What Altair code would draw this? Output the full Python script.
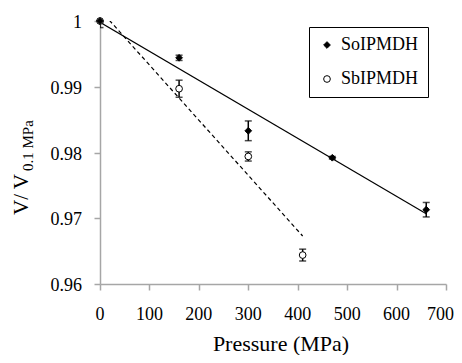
import altair as alt
import pandas as pd

# Data
so_pressure = [0, 160, 300, 470, 660]
so_ratio = [1.0, 0.9944, 0.9833, 0.9792, 0.9713]
so_err = [0.0003, 0.0004, 0.0015, 0.0002, 0.0011]

sb_pressure = [0, 160, 300, 410]
sb_ratio = [1.0, 0.9897, 0.9794, 0.9644]
sb_err = [0.0010, 0.0013, 0.0007, 0.0009]

# Linear trend lines (end points)
so_fit_x = [0, 660]
so_fit_y = [0.9998, 0.9707]
sb_fit_x = [0, 410]
sb_fit_y = [1.0017, 0.9673]

series_names = ["SoIPMDH", "SbIPMDH"]
x_ticks = [0, 100, 200, 300, 400, 500, 600]
x_tick_last = [700]
y_ticks = [0.96, 0.97, 0.98, 0.99, 1.0]
y_tick_labels = ["0.96", "0.97", "0.98", "0.99", "1"]
x_title = "Pressure (MPa)"

rows = []
for p, r, e in zip(sb_pressure, sb_ratio, sb_err):
    rows.append({"P": p, "V": r, "lo": r - e, "hi": r + e, "s": "SbIPMDH"})
for p, r, e in zip(so_pressure, so_ratio, so_err):
    rows.append({"P": p, "V": r, "lo": r - e, "hi": r + e, "s": "SoIPMDH"})
pts = pd.DataFrame(rows)

fit_so = pd.DataFrame({"P": so_fit_x, "V": so_fit_y})
fit_sb = pd.DataFrame({"P": sb_fit_x, "V": sb_fit_y})

FONT = "Liberation Serif"
GRAY = "#a6a6a6"

xs = alt.Scale(domain=[0, 700], nice=False)
ys = alt.Scale(domain=[0.96, 1.0], nice=False, zero=False)

x_axis = alt.Axis(values=x_ticks + x_tick_last, title=None, labels=False)
y_axis = alt.Axis(values=y_ticks, title=None, labels=False)

base = alt.Chart(pts)

lines_so = alt.Chart(fit_so).mark_line(color="black", strokeWidth=1.2, clip=True).encode(
    x=alt.X("P:Q", scale=xs, axis=x_axis), y=alt.Y("V:Q", scale=ys, axis=y_axis))
lines_sb = alt.Chart(fit_sb).mark_line(color="black", strokeWidth=1.2, strokeDash=[4, 3], clip=True).encode(
    x=alt.X("P:Q", scale=xs, axis=x_axis), y=alt.Y("V:Q", scale=ys, axis=y_axis))

bars = base.mark_rule(color="black", strokeWidth=1.5, clip=True).encode(
    x=alt.X("P:Q", scale=xs, axis=x_axis), y=alt.Y("lo:Q", scale=ys, axis=y_axis), y2="hi:Q")
cap_lo = base.mark_tick(color="black", thickness=1.5, size=7, orient="horizontal", clip=True).encode(
    x=alt.X("P:Q", scale=xs, axis=x_axis), y=alt.Y("lo:Q", scale=ys, axis=y_axis))
cap_hi = base.mark_tick(color="black", thickness=1.5, size=7, orient="horizontal", clip=True).encode(
    x=alt.X("P:Q", scale=xs, axis=x_axis), y=alt.Y("hi:Q", scale=ys, axis=y_axis))

points = base.mark_point(strokeWidth=1, opacity=1).encode(
    x=alt.X("P:Q", scale=xs, axis=x_axis),
    y=alt.Y("V:Q", scale=ys, axis=y_axis),
    shape=alt.Shape("s:N", scale=alt.Scale(domain=series_names, range=["diamond", "circle"]),
                    legend=alt.Legend(title=None)),
    fill=alt.Fill("s:N", scale=alt.Scale(domain=series_names, range=["black", "white"]),
                  legend=alt.Legend(title=None)),
    stroke=alt.Stroke("s:N", scale=alt.Scale(domain=series_names, range=["black", "black"]),
                      legend=alt.Legend(title=None)),
    size=alt.value(45),
)

# tick labels as text marks placed through the chart's scales
xlab = alt.Chart(pd.DataFrame({"P": x_ticks, "t": [str(v) for v in x_ticks]})).mark_text(
    font=FONT, fontSize=18, align="center", baseline="alphabetic", color="black"
).encode(x=alt.X("P:Q", scale=xs, axis=x_axis), y=alt.value(299), text="t:N")
xlab_last = alt.Chart(pd.DataFrame({"P": x_tick_last, "t": [str(v) for v in x_tick_last]})).mark_text(
    font=FONT, fontSize=18, align="right", baseline="alphabetic", color="black", dx=8
).encode(x=alt.X("P:Q", scale=xs, axis=x_axis), y=alt.value(299), text="t:N")
ylab = alt.Chart(pd.DataFrame({"V": y_ticks, "t": y_tick_labels})).mark_text(
    font=FONT, fontSize=18, align="right", baseline="alphabetic", color="black", dy=7
).encode(y=alt.Y("V:Q", scale=ys, axis=y_axis), x=alt.value(-18), text="t:N")

xtitle = alt.Chart(pd.DataFrame({"t": [x_title]})).mark_text(
    font=FONT, fontSize=22, align="center", baseline="alphabetic", color="black"
).encode(text="t:N", x=alt.value(181), y=alt.value(330))
ytitle_main = alt.Chart(pd.DataFrame({"t": ["V/ V"]})).mark_text(
    font=FONT, fontSize=21, angle=270, align="left", baseline="alphabetic", color="black"
).encode(text="t:N", x=alt.value(-72), y=alt.value(194))
ytitle_sub = alt.Chart(pd.DataFrame({"t": ["0.1 MPa"]})).mark_text(
    font=FONT, fontSize=15, angle=270, align="left", baseline="alphabetic", color="black"
).encode(text="t:N", x=alt.value(-67), y=alt.value(150))

chart = alt.layer(lines_so, lines_sb, bars, cap_lo, cap_hi, points, xlab, xlab_last, ylab,
                  xtitle, ytitle_main, ytitle_sub).properties(
    width=346, height=263,
    autosize=alt.AutoSizeParams(type="none"),
    padding={"left": 92, "top": 13, "right": 8, "bottom": 71},
).configure_view(stroke=None).configure_axis(
    grid=False, domainColor=GRAY, domainWidth=1.5, tickColor=GRAY,
    tickWidth=1.5, tickSize=6,
).configure_legend(
    orient="none", legendX=209, legendY=6, strokeColor="black", padding=9,
    rowPadding=16, labelFont=FONT, labelFontSize=18, labelColor="black",
    symbolStrokeWidth=1, labelOffset=5, symbolSize=45, fillColor="white", cornerRadius=0,
)

chart.save("out.html", embed_options={"renderer": "svg", "actions": False})
